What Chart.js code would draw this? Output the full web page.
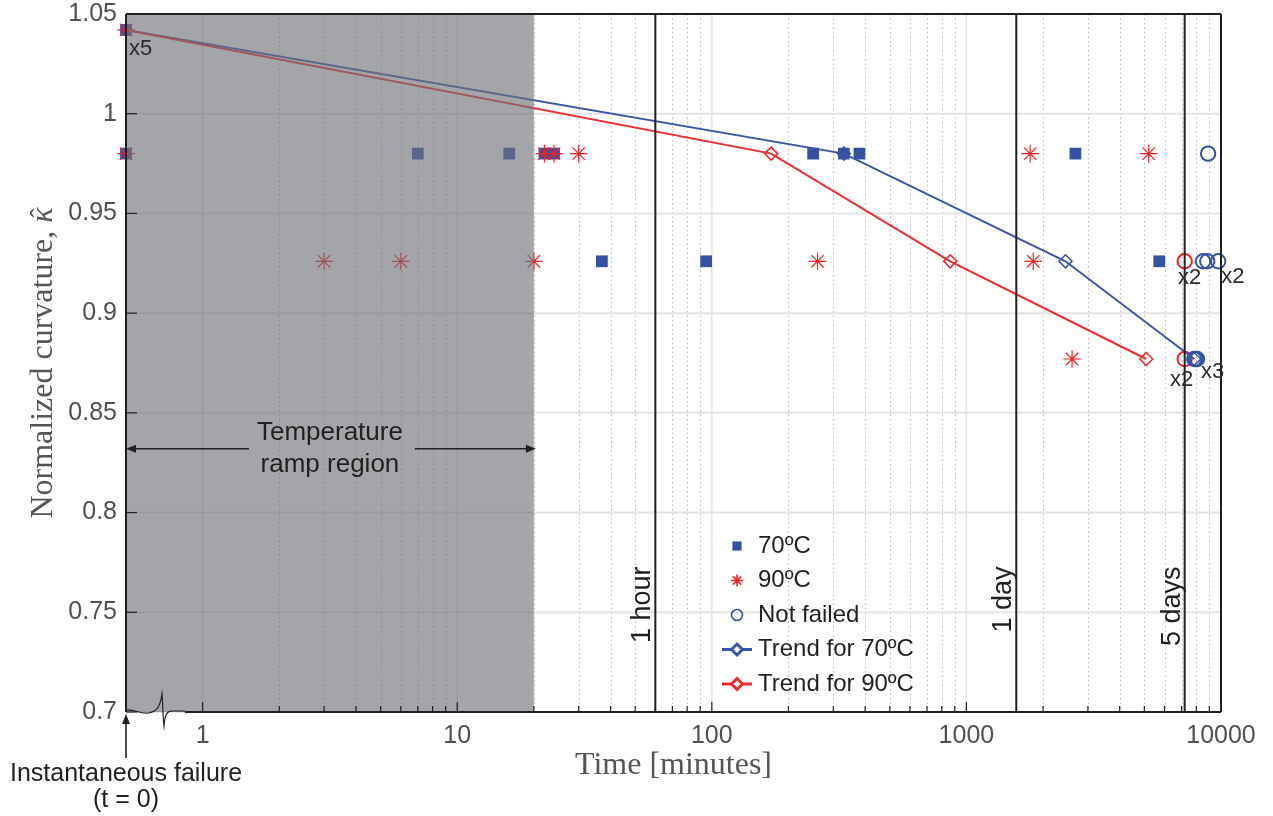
<!DOCTYPE html>
<html>
<head>
<meta charset="utf-8">
<script src="https://cdn.jsdelivr.net/npm/chart.js@4.4.1/dist/chart.umd.min.js"></script>
<style>
  html, body { margin: 0; padding: 0; background: #fff; }
</style>
</head>
<body>
<canvas id="curvChart" width="1273" height="816"></canvas>
<script>
// t = 0 cannot sit on a log axis, so those failures are drawn at the left edge
const T_ZERO = 0.5;
const X_MIN = 0.5, X_MAX = 10000;
const Y_MIN = 0.7, Y_MAX = 1.05, Y_STEP = 0.05;
const X_TICKS = [1, 10, 100, 1000, 10000];

// failures at 70ºC (time in minutes, normalized curvature)
const T_70 = [T_ZERO, T_ZERO, 7, 16, 22, 24, 37, 95, 250, 330, 380, 2680, 5720];
const K_70 = [1.042, 0.98, 0.98, 0.98, 0.98, 0.98, 0.926, 0.926, 0.98, 0.98, 0.98, 0.98, 0.926];

// failures at 90ºC
const T_90 = [T_ZERO, T_ZERO, 3, 6, 20, 22, 24, 30, 260, 1780, 1830, 2600, 5200];
const K_90 = [1.042, 0.98, 0.926, 0.926, 0.926, 0.98, 0.98, 0.98, 0.926, 0.98, 0.926, 0.877, 0.98];

// specimens that had not failed when the test stopped
const T_NF70 = [8900, 8500, 8830, 9750, 7850, 7950, 8050];
const K_NF70 = [0.98, 0.926, 0.926, 0.926, 0.877, 0.877, 0.877];
const T_NF90 = [7200, 7200];
const K_NF90 = [0.926, 0.877];

// trend lines
const T_TREND70 = [T_ZERO, 330, 2450, 7850];
const K_TREND70 = [1.042, 0.98, 0.926, 0.877];
const T_TREND90 = [T_ZERO, 171, 864, 5085];
const K_TREND90 = [1.042, 0.98, 0.926, 0.877];

const RAMP_END = 20; // end of temperature ramp, minutes
const MARK_T = [60, 1570, 7200];
const MARK_LABELS = ["1 hour", "1 day", "5 days"];

// overlapping specimens
const MULT_T = [T_ZERO, 7200, 9750, 7200, 8050];
const MULT_K = [1.042, 0.926, 0.926, 0.877, 0.877];
const MULT_TXT = ["x5", "x2", "x2", "x2", "x3"];

const BLUE = "#3552a1";
const RED = "#ec2227";
const INK = "#231f20";
const TICK_INK = "#505050";
const SANS = "'Liberation Sans', Arial, Helvetica, sans-serif";
const SERIF = "'Liberation Serif', 'Times New Roman', serif";

const pts = (xs, ys) => xs.map((x, i) => ({ x, y: ys[i] }));

function line(ctx, x1, y1, x2, y2) {
  ctx.beginPath();
  ctx.moveTo(x1, y1);
  ctx.lineTo(x2, y2);
  ctx.stroke();
}

function arrowHead(ctx, x, y, dx, dy) {
  // tip at (x, y), pointing along (dx, dy)
  const len = 10, half = 4;
  const px = -dy, py = dx;
  ctx.beginPath();
  ctx.moveTo(x, y);
  ctx.lineTo(x - dx * len + px * half, y - dy * len + py * half);
  ctx.lineTo(x - dx * len - px * half, y - dy * len - py * half);
  ctx.closePath();
  ctx.fill();
}

// ---------------------------------------------------------------------------
// grid: solid decades + dotted minor lines, solid horizontal lines
// ---------------------------------------------------------------------------
const gridPlugin = {
  id: "paperGrid",
  beforeDatasetsDraw(chart) {
    const { ctx, chartArea: a, scales: { x, y } } = chart;
    ctx.save();
    ctx.lineWidth = 1;
    ctx.strokeStyle = "#b9b9b9";
    ctx.setLineDash([1.5, 3]);
    for (let d = 1; d < X_MAX; d *= 10) {
      for (let m = 2; m < 10; m++) {
        const px = Math.round(x.getPixelForValue(d * m)) + 0.5;
        line(ctx, px, a.top, px, a.bottom);
      }
    }
    ctx.setLineDash([]);
    ctx.strokeStyle = "#e4e4e4";
    ctx.lineWidth = 1.5;
    for (const v of X_TICKS) {
      const px = x.getPixelForValue(v);
      line(ctx, px, a.top, px, a.bottom);
    }
    ctx.lineWidth = 2;
    for (const t of y.ticks) {
      const py = y.getPixelForValue(t.value);
      line(ctx, a.left, py, a.right, py);
    }
    ctx.restore();
  },
};

// ---------------------------------------------------------------------------
// grey veil over the temperature ramp (drawn over the data, as in the paper)
// ---------------------------------------------------------------------------
const rampPlugin = {
  id: "rampVeil",
  afterDatasetsDraw(chart) {
    const { ctx, chartArea: a, scales: { x } } = chart;
    const xr = x.getPixelForValue(RAMP_END);
    ctx.save();
    ctx.fillStyle = "rgba(112,114,120,0.64)";
    ctx.fillRect(a.left, a.top, xr - a.left, a.bottom - a.top);
    ctx.restore();
  },
};

// ---------------------------------------------------------------------------
// frame, ticks, axis break, reference lines, notes, y title and legend
// ---------------------------------------------------------------------------
const decorPlugin = {
  id: "decor",
  afterDraw(chart) {
    const { ctx, chartArea: a, scales: { x, y } } = chart;
    const L = a.left, B = a.bottom;
    ctx.save();

    // 1 hour / 1 day / 5 days
    ctx.strokeStyle = INK;
    ctx.fillStyle = INK;
    ctx.lineWidth = 2;
    ctx.font = "27px " + SANS;
    MARK_T.forEach((t, i) => {
      const px = x.getPixelForValue(t);
      line(ctx, px, a.top, px, B);
      ctx.save();
      ctx.translate(px - 5, y.getPixelForValue(0.773));
      ctx.rotate(-Math.PI / 2);
      ctx.textAlign = "right";
      ctx.textBaseline = "alphabetic";
      ctx.fillText(MARK_LABELS[i], 0, 0);
      ctx.restore();
    });

    // box
    ctx.lineWidth = 2;
    line(ctx, L, a.top, a.right, a.top);
    line(ctx, a.right, a.top, a.right, B);
    line(ctx, L, a.top, L, B);
    line(ctx, L + 59, B, a.right, B);

    // inward ticks
    ctx.lineWidth = 1.2;
    for (const t of y.ticks) {
      const py = y.getPixelForValue(t.value);
      line(ctx, L, py, L + 11, py);
    }
    for (const v of X_TICKS) {
      const px = x.getPixelForValue(v);
      line(ctx, px, B, px, B - 10);
    }
    for (let d = 1; d < X_MAX; d *= 10) {
      for (let m = 2; m < 10; m++) {
        const px = x.getPixelForValue(d * m);
        line(ctx, px, B, px, B - 6);
      }
    }

    // axis break
    ctx.lineWidth = 1.2;
    ctx.beginPath();
    ctx.moveTo(L, B - 2);
    ctx.bezierCurveTo(L + 8, B - 3, L + 14, B + 2, L + 22, B + 1);
    ctx.bezierCurveTo(L + 30, B, L + 34, B - 4, L + 36, B - 18);
    ctx.bezierCurveTo(L + 37, B - 6, L + 37, B + 6, L + 38, B + 14);
    ctx.bezierCurveTo(L + 39, B + 2, L + 41, B - 1, L + 46, B - 1);
    ctx.lineTo(L + 59, B - 1);
    ctx.stroke();

    // instantaneous failure
    ctx.lineWidth = 1.6;
    line(ctx, L, B + 46, L, B + 8);
    arrowHead(ctx, L, B + 2, 0, -1);
    ctx.font = "25px " + SANS;
    ctx.textAlign = "center";
    ctx.textBaseline = "alphabetic";
    ctx.fillText("Instantaneous failure", L, B + 69);
    ctx.fillText("(t = 0)", L, B + 95);

    // temperature ramp region
    const xr = x.getPixelForValue(RAMP_END);
    const cx = (L + xr) / 2;
    const ay = y.getPixelForValue(0.832);
    ctx.font = "26px " + SANS;
    ctx.textBaseline = "middle";
    ctx.fillText("Temperature", cx, ay - 16);
    ctx.fillText("ramp region", cx, ay + 16);
    const half = ctx.measureText("Temperature").width / 2;
    line(ctx, L + 6, ay, cx - half - 8, ay);
    line(ctx, cx + half + 12, ay, xr - 6, ay);
    arrowHead(ctx, L, ay, -1, 0);
    arrowHead(ctx, xr + 2, ay, 1, 0);

    // multiplicity labels
    const off = [[3, 19, "left"], [5, 17, "center"], [3, 16, "left"], [-3, 21, "center"], [4, 13, "left"]];
    ctx.font = "22px " + SANS;
    ctx.fillStyle = "#2b2b2b";
    MULT_TXT.forEach((s, i) => {
      ctx.textAlign = off[i][2];
      ctx.fillText(s, x.getPixelForValue(MULT_T[i]) + off[i][0], y.getPixelForValue(MULT_K[i]) + off[i][1]);
    });

    // y title with an italic, hatted kappa
    ctx.save();
    ctx.translate(41, (a.top + a.bottom) / 2);
    ctx.rotate(-Math.PI / 2);
    ctx.fillStyle = "#555";
    ctx.textBaseline = "alphabetic";
    ctx.textAlign = "left";
    const head = "Normalized curvature, ";
    ctx.font = "32px " + SERIF;
    const w1 = ctx.measureText(head).width;
    ctx.font = "italic 32px " + SERIF;
    const w2 = ctx.measureText("κ").width;
    const sx = -(w1 + w2) / 2;
    ctx.font = "32px " + SERIF;
    ctx.fillText(head, sx, 11);
    ctx.font = "italic 32px " + SERIF;
    ctx.fillText("κ", sx + w1, 11);
    ctx.font = "28px " + SERIF;
    ctx.textAlign = "center";
    ctx.fillText("ˆ", sx + w1 + w2 / 2 + 2, 8);
    ctx.restore();

    // legend
    const mx = L + 611;
    let ly = a.top + 532;
    ctx.font = "24px " + SANS;
    ctx.textAlign = "left";
    ctx.textBaseline = "middle";
    chart.data.datasets.forEach((ds) => {
      if (ds.inLegend === false) return;
      if (ds.showLine) {
        ctx.strokeStyle = ds.borderColor;
        ctx.lineWidth = 3;
        line(ctx, mx - 15, ly, mx + 15, ly);
      }
      ctx.strokeStyle = ds.borderColor;
      ctx.fillStyle = ds.legendFill || ds.backgroundColor;
      Chart.helpers.drawPoint(ctx, {
        pointStyle: ds.pointStyle,
        radius: ds.legendRadius,
        rotation: 0,
        borderWidth: ds.pointBorderWidth || ds.borderWidth,
      }, mx, ly);
      ctx.fillStyle = INK;
      ctx.fillText(ds.label, mx + 21, ly);
      ly += 34.5;
    });

    ctx.restore();
  },
};

new Chart(document.getElementById("curvChart"), {
  type: "scatter",
  data: {
    datasets: [
      {
        label: "70ºC",
        data: pts(T_70, K_70),
        pointStyle: "rect",
        pointRadius: 8.3,
        legendRadius: 6.5,
        backgroundColor: BLUE,
        borderColor: BLUE,
        borderWidth: 0,
        clip: false,
        order: 4,
      },
      {
        label: "90ºC",
        data: pts(T_90, K_90),
        pointStyle: "star",
        pointRadius: 8.8,
        legendRadius: 6,
        backgroundColor: RED,
        borderColor: RED,
        borderWidth: 1.2,
        clip: false,
        order: 2,
      },
      {
        label: "Not failed",
        data: pts(T_NF70, K_NF70),
        pointStyle: "circle",
        pointRadius: 7.2,
        legendRadius: 5.5,
        backgroundColor: "rgba(0,0,0,0)",
        borderColor: BLUE,
        borderWidth: 2,
        clip: false,
        order: 3,
      },
      {
        label: "Trend for 70ºC",
        data: pts(T_TREND70, K_TREND70),
        showLine: true,
        pointStyle: "rectRot",
        pointRadius: [0, 6.5, 6.5, 6.5],
        legendRadius: 5.5,
        legendFill: "#fff",
        backgroundColor: "rgba(0,0,0,0)",
        borderColor: "#3a54a6",
        borderWidth: 2,
        pointBorderWidth: 1.6,
        clip: false,
        order: 1,
      },
      {
        label: "Trend for 90ºC",
        data: pts(T_TREND90, K_TREND90),
        showLine: true,
        pointStyle: "rectRot",
        pointRadius: [0, 6.5, 6.5, 6.5],
        legendRadius: 5.5,
        legendFill: "#fff",
        backgroundColor: "rgba(0,0,0,0)",
        borderColor: "#ee2b2f",
        borderWidth: 2,
        pointBorderWidth: 1.6,
        clip: false,
        order: 0,
      },
      {
        label: "Not failed (90ºC)",
        inLegend: false,
        data: pts(T_NF90, K_NF90),
        pointStyle: "circle",
        pointRadius: 7.2,
        backgroundColor: "rgba(0,0,0,0)",
        borderColor: RED,
        borderWidth: 2,
        clip: false,
        order: 3,
      },
    ],
  },
  options: {
    responsive: false,
    animation: false,
    events: [],
    layout: { padding: { top: 14, right: 52, left: 0, bottom: 0 } },
    plugins: { legend: { display: false }, tooltip: { enabled: false } },
    scales: {
      x: {
        type: "logarithmic",
        min: X_MIN,
        max: X_MAX,
        afterBuildTicks: (s) => { s.ticks = X_TICKS.map((v) => ({ value: v })); },
        afterFit: (s) => { s.height = 104; s.paddingLeft = 0; s.paddingRight = 0; },
        grid: { display: false },
        border: { display: false },
        ticks: {
          padding: 1,
          color: TICK_INK,
          font: { family: SANS, size: 25 },
          maxRotation: 0,
          autoSkip: false,
          callback: (v) => String(v),
        },
        title: {
          display: true,
          text: "Time [minutes]",
          color: "#555",
          font: { family: SERIF, size: 32 },
          padding: { top: 0, bottom: 31 },
        },
      },
      y: {
        min: Y_MIN,
        max: Y_MAX,
        afterFit: (s) => { s.width = 126; s.paddingTop = 0; s.paddingBottom = 0; },
        grid: { display: false },
        border: { display: false },
        ticks: {
          stepSize: Y_STEP,
          padding: 1,
          color: TICK_INK,
          font: { family: SANS, size: 25 },
          callback: (v) => String(Number(v.toFixed(2))),
        },
      },
    },
  },
  plugins: [gridPlugin, rampPlugin, decorPlugin],
});
</script>
</body>
</html>
